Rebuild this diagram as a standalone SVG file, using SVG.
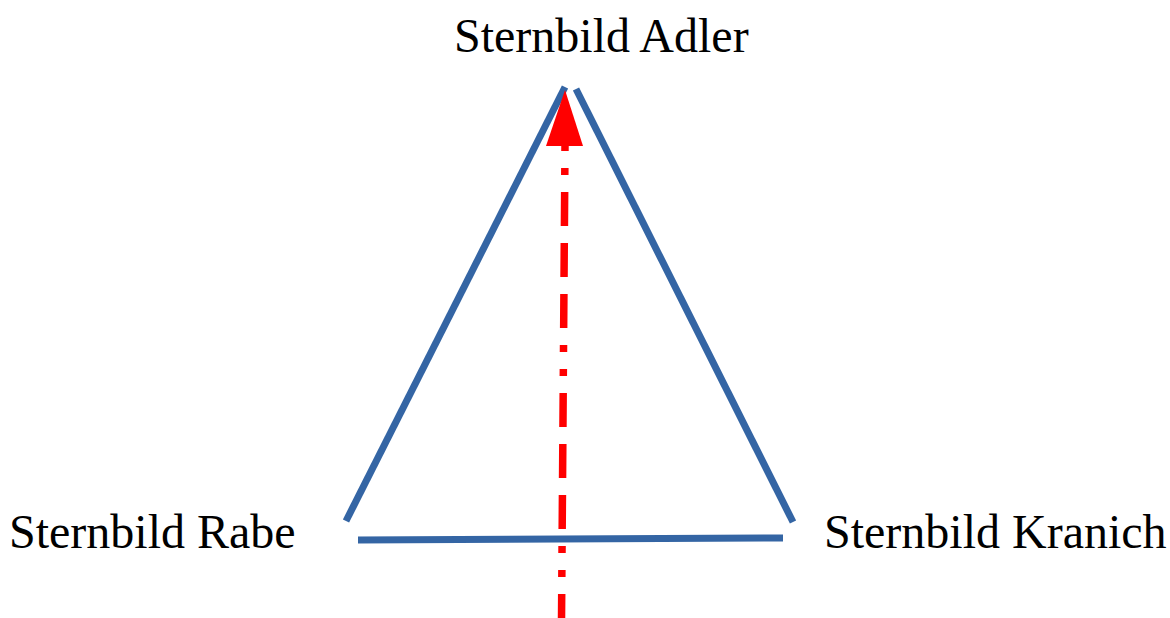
<svg xmlns="http://www.w3.org/2000/svg" width="1170" height="618" viewBox="0 0 1170 618">
<style>
.lbl{font-family:"Liberation Serif","Times New Roman",serif;font-size:48px;fill:#000}
.edge{stroke:#3465a4;stroke-width:7;fill:none}
.axis{stroke:#ff0000;stroke-width:7.5;fill:none;stroke-dasharray:34 17 34 17 34 17 7 17 7 17;stroke-dashoffset:155}
</style>
<rect width="1170" height="618" fill="#fff"/>
<g id="connectors">
<line class="edge" x1="346" y1="521" x2="565" y2="87"/>
<line class="edge" x1="576" y1="89" x2="793" y2="522"/>
<line class="edge" x1="358" y1="540" x2="783" y2="538"/>
<line class="axis" x1="565" y1="146" x2="561.5" y2="622"/>
<polygon points="565,90 583,146 546,146" fill="#ff0000"/>
</g>
<g id="node-adler"><text class="lbl" x="454" y="52">Sternbild Adler</text></g>
<g id="node-rabe"><text class="lbl" x="9" y="548">Sternbild Rabe</text></g>
<g id="node-kranich"><text class="lbl" x="824" y="548">Sternbild Kranich</text></g>
</svg>
